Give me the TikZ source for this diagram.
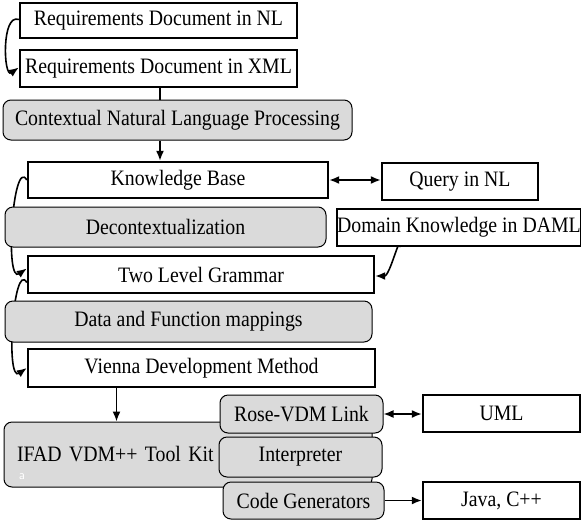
\documentclass[tikz,border=0pt]{standalone}
\usepackage{fontspec}
\setmainfont{Liberation Serif}[FakeStretch=0.9]
\usetikzlibrary{arrows.meta,backgrounds}
\definecolor{stepgrey}{RGB}{218,218,218}
\begin{document}
\begin{tikzpicture}[x=1pt,y=-1pt,
        font=\fontsize{22}{24}\selectfont,
        >={Latex[length=10pt,width=8pt]},
        docbox/.style={draw,line width=2.4pt,fill=white,inner sep=0pt},
        procbox/.style={draw,line width=1pt,rounded corners=8pt,fill=stepgrey,inner sep=0pt},
        link/.style={line width=1.6pt}]
                \useasboundingbox (0,0) rectangle (581,520);
                %% Documents
                \node[docbox,minimum width=277pt,minimum height=35pt] (reqnl) at (158.5,20.5) {Requirements Document in NL};
                \node[docbox,minimum width=277pt,minimum height=37pt] (reqxml) at (158.5,68.5) {Requirements Document in XML};
                \node[procbox,minimum width=349pt,minimum height=40pt] (cnlp) at (177.5,120) {Contextual Natural Language Processing};
                \node[docbox,minimum width=300pt,minimum height=36pt] (kb) at (178,180) {Knowledge Base};
                \node[docbox,minimum width=156pt,minimum height=37pt] (query) at (460,181.5) {Query in NL};
                \node[procbox,minimum width=321pt,minimum height=40pt] (decon) at (165.5,227) {Decontextualization};
                \node[docbox,minimum width=240pt,minimum height=37pt] (daml) at (459,227.5) {Domain Knowledge in DAML};
                \node[docbox,minimum width=346pt,minimum height=37pt] (tlg) at (201,274.5) {Two Level Grammar};
                \node[procbox,minimum width=367pt,minimum height=41pt] (dfm) at (188.5,321.5) {Data and Function mappings};
                \node[docbox,minimum width=347pt,minimum height=38pt] (vdm) at (201.5,368) {Vienna Development Method};
                %% Tool kit
                \node[procbox,minimum width=368pt,minimum height=65pt,text width=342pt,align=left] (ifad) at (188,454.5) {IFAD VDM++ Tool Kit};
                \node[white,font=\fontsize{13}{13}\sffamily] (mark) at (22,477) {a};
                \node[procbox,minimum width=163pt,minimum height=38pt] (rose) at (301.5,414) {Rose-VDM Link};
                \node[procbox,minimum width=163pt,minimum height=40pt] (interp) at (300.5,457) {Interpreter};
                \node[procbox,minimum width=161pt,minimum height=37pt] (codegen) at (303.5,500.5) {Code Generators};
                \node[docbox,minimum width=157pt,minimum height=37pt] (uml) at (501.5,413.5) {UML};
                \node[docbox,minimum width=157pt,minimum height=37pt] (java) at (501.5,500.5) {Java, C++};
                %% Links
                \begin{pgfonlayer}{background}
                \draw[link,->] ([yshift=1pt]reqnl.west) to[out=160,in=215] ([yshift=1pt]reqxml.west);
                \draw[link] ([xshift=1.5pt]reqxml.south) -- ([xshift=1.5pt]reqxml.south |- cnlp.north);
                \draw[link,->] ([xshift=1.5pt]reqxml.south |- cnlp.south) -- ([xshift=1.5pt]reqxml.south |- kb.north);
                \draw[link,<->] (kb.east) -- (kb.east -| query.west);
                \draw[link,->] (kb.west) to[out=120,in=215,looseness=0.8] ([yshift=6pt]tlg.west);
                \draw[link,->] ([xshift=-59pt]daml.south) to[out=90,in=0] ([yshift=-1.5pt]tlg.east);
                \draw[link,->] ([yshift=-8pt]tlg.west) to[out=120,in=215,looseness=0.8] (vdm.west);
                \draw[link,->] ([xshift=-85pt]vdm.south) -- ([xshift=-85pt]vdm.south |- ifad.north);
                \draw[link,<->] (rose.east) -- (rose.east -| uml.west);
                \draw[link,->] (codegen.east) -- (codegen.east -| java.west);
                \end{pgfonlayer}
            \end{tikzpicture}
\end{document}
